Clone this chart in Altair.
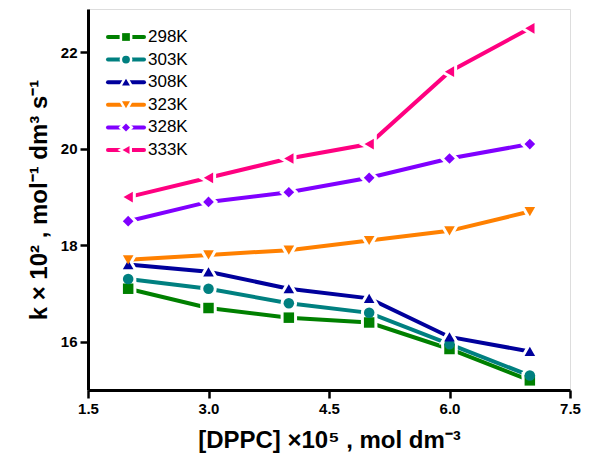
import altair as alt
import pandas as pd

conc = [2, 3, 4, 5, 6, 7]
series = ["298K", "303K", "\u00a0308K", "323K", "328K", "333K"]
k298 = [17.1, 16.7, 16.5, 16.4, 15.85, 15.2]
k303 = [17.3, 17.1, 16.8, 16.6, 15.95, 15.3]
k308 = [17.6, 17.45, 17.1, 16.9, 16.1, 15.8]
k323 = [17.7, 17.8, 17.9, 18.1, 18.3, 18.7]
k328 = [18.5, 18.9, 19.1, 19.4, 19.8, 20.1]
k333 = [19.0, 19.4, 19.8, 20.1, 21.6, 22.5]
values = [k298, k303, k308, k323, k328, k333]

colors = ["#008000", "#008080", "#00009C", "#FF8000", "#8000FF", "#FF0080"]
shapes = ["square", "circle", "triangle-up", "triangle-down", "diamond", "triangle-left"]
marker_sizes = [110, 115, 185, 185, 165, 190]
legend_marker_sizes = [60, 65, 100, 100, 90, 105]

x_ticks = [1.5, 3.0, 4.5, 6.0, 7.5]
y_ticks = [16, 18, 20, 22]

rows = []
for s, vals in zip(series, values):
    for c, v in zip(conc, vals):
        rows.append({"conc": c, "k": v, "series": s})
df = pd.DataFrame(rows)
legend_df = pd.DataFrame({"series": series})

FONT = "Liberation Sans"

color_scale = alt.Scale(domain=series, range=colors)
shape_scale = alt.Scale(domain=series, range=shapes)
size_scale = alt.Scale(domain=series, range=marker_sizes)

x_enc = alt.X(
    "conc:Q",
    scale=alt.Scale(domain=[1.5, 7.5], nice=False, zero=False),
    axis=alt.Axis(
        values=x_ticks, format=".1f", grid=False,
        title="[DPPC] ×10⁵ , mol dm⁻³",
        titleFontSize=24, titleFont=FONT, titleFontWeight="bold", titlePadding=12,
        labelFontSize=15, labelFont=FONT, labelFontWeight="bold", labelPadding=3,
        tickSize=8, tickWidth=2.5, domainWidth=3, domainColor="black", tickColor="black",
        labelColor="black", titleColor="black", labelFlush=False,
    ),
)
y_enc = alt.Y(
    "k:Q",
    scale=alt.Scale(domain=[15.0, 22.9], nice=False, zero=False),
    axis=alt.Axis(
        values=y_ticks, format="d", grid=False,
        title="k × 10² , mol⁻¹  dm³  s⁻¹",
        titleFontSize=24, titleFont=FONT, titleFontWeight="bold", titlePadding=9,
        labelFontSize=15, labelFont=FONT, labelFontWeight="bold", labelPadding=3,
        tickSize=8, tickWidth=2.5, domainWidth=3, domainColor="black", tickColor="black",
        labelColor="black", titleColor="black",
    ),
)

lines = alt.Chart(df).mark_line(strokeWidth=4).encode(
    x=x_enc, y=y_enc,
    stroke=alt.Stroke("series:N", scale=color_scale, legend=None),
)
halos = alt.Chart(df).mark_point(filled=False, opacity=1, strokeWidth=6, color="white").encode(
    x=x_enc, y=y_enc,
    shape=alt.Shape("series:N", scale=shape_scale, legend=None),
    size=alt.Size("series:N", scale=size_scale, legend=None),
)
points = alt.Chart(df).mark_point(filled=True, opacity=1, strokeWidth=0).encode(
    x=x_enc, y=y_enc,
    fill=alt.Fill("series:N", scale=color_scale, legend=None),
    shape=alt.Shape("series:N", scale=shape_scale, legend=None),
    size=alt.Size("series:N", scale=size_scale, legend=None),
)
data_layer = alt.layer(lines, halos, points)

# legend drawn inside the frame, top-left
leg_y = alt.Y("series:N", sort=series, axis=None,
              scale=alt.Scale(type="point", range=[28, 141], padding=0))
leg_size = alt.Size("series:N", legend=None,
                    scale=alt.Scale(domain=series, range=legend_marker_sizes))
leg_lines = alt.Chart(legend_df).mark_rule(strokeWidth=4, strokeCap="round").encode(
    x=alt.value(20), x2=alt.value(56), y=leg_y,
    stroke=alt.Stroke("series:N", scale=color_scale, legend=None),
)
leg_halos = alt.Chart(legend_df).mark_point(filled=False, opacity=1, strokeWidth=5, color="white").encode(
    x=alt.value(38), y=leg_y,
    shape=alt.Shape("series:N", scale=shape_scale, legend=None),
    size=leg_size,
)
leg_points = alt.Chart(legend_df).mark_point(filled=True, opacity=1, strokeWidth=0).encode(
    x=alt.value(38), y=leg_y,
    fill=alt.Fill("series:N", scale=color_scale, legend=None),
    shape=alt.Shape("series:N", scale=shape_scale, legend=None),
    size=leg_size,
)
leg_text = alt.Chart(legend_df).mark_text(
    align="left", baseline="middle", fontSize=17, font=FONT, color="black"
).encode(x=alt.value(60), y=leg_y, text="series:N")
legend_layer = alt.layer(leg_lines, leg_halos, leg_points, leg_text).resolve_scale(size="independent")

chart = alt.layer(data_layer, legend_layer).resolve_scale(y="independent", size="independent").properties(
    width=482, height=381,
    autosize=alt.AutoSizeParams(type="none"),
    padding={"left": 80, "top": 1, "right": 11, "bottom": 72},
).configure_view(stroke="black", strokeWidth=3).configure(background="white")

chart.save("out.html", embed_options={"renderer": "svg", "actions": False})
